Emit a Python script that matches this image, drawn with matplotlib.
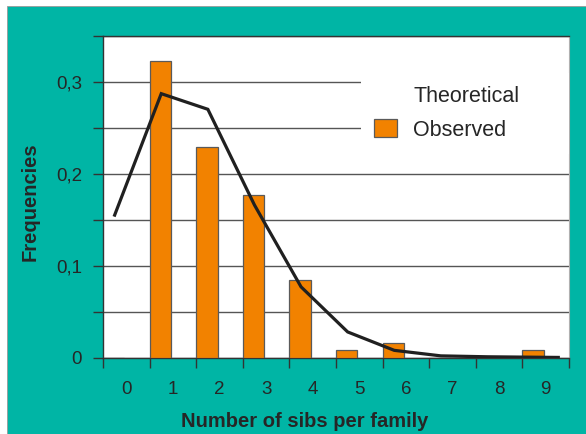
import matplotlib.pyplot as plt
import numpy as np
from matplotlib.patches import Rectangle, Patch
from matplotlib.lines import Line2D
from matplotlib.ticker import MultipleLocator, FixedLocator, FuncFormatter

plt.rcParams['font.family'] = ['Liberation Sans', 'DejaVu Sans']

# data
n_sibs = np.arange(10)
observed = [0.0, 0.322, 0.229, 0.177, 0.084, 0.008, 0.016, 0.0, 0.0, 0.008]
theo_x = [-0.25, 0.75, 1.75, 2.75, 3.75, 4.75, 5.75, 6.75, 7.75, 9.27]
theoretical = [0.155, 0.287, 0.270, 0.166, 0.077, 0.028, 0.008, 0.002, 0.001, 0.0003]

teal = '#00B5A5'
orange = '#F28200'
text_c = '#262626'


def main():
    fig = plt.figure(figsize=(5.86, 4.34), dpi=100, facecolor='white')
    fig.patches.append(Rectangle((7 / 586, 0), 1, 1 - 6 / 434, transform=fig.transFigure,
                                 facecolor=teal, edgecolor='#9a9a9a', lw=0.6, zorder=-10))

    ax = fig.add_axes([103 / 586, 1 - 357.7 / 434, 466 / 586, 322 / 434])
    ax.set_facecolor('white')

    # bars sit in the left half of each category
    ax.bar(n_sibs - 0.5, observed, width=0.46, align='edge', color=orange,
           edgecolor='#5a5a5a', linewidth=0.9, zorder=3, label='Observed')
    ax.plot(theo_x, theoretical, color='#202020', lw=2.3, zorder=4, solid_joinstyle='miter')

    ax.set_xlim(-0.5, 9.5)
    ax.set_ylim(0, 0.35)

    # x: labels at centres, tick marks on the category borders
    ax.xaxis.set_major_locator(FixedLocator(n_sibs))
    ax.xaxis.set_minor_locator(FixedLocator(np.arange(-0.5, 10, 1.0)))
    ax.tick_params(axis='x', which='major', length=0, pad=17, labelsize=13.5, labelcolor=text_c)
    ax.tick_params(axis='x', which='minor', length=7, width=1, color='#333333', direction='out')

    # y: labels every 0.1 with comma, marks every 0.05
    ax.yaxis.set_major_locator(MultipleLocator(0.1))
    ax.yaxis.set_minor_locator(MultipleLocator(0.05))
    ax.yaxis.set_major_formatter(FuncFormatter(lambda v, p: ('%.1f' % v).replace('.', ',') if v > 1e-9 else '0'))
    ax.tick_params(axis='y', which='both', length=7, width=1, color='#333333', direction='out')
    ax.tick_params(axis='y', which='major', pad=8, labelsize=13.5, labelcolor=text_c)

    ax.grid(True, axis='y', which='both', color='#555555', lw=1.0, zorder=1)
    ax.set_axisbelow(True)

    for side in ['left', 'bottom', 'top']:
        ax.spines[side].set_color('#333333')
        ax.spines[side].set_linewidth(1.0)
    ax.spines['right'].set_color('#b0b0b0')

    ax.text(-0.157, 0.484, 'Frequencies', transform=ax.transAxes, rotation=90,
            ha='center', va='center', fontsize=14.5, fontweight='bold', color=text_c)
    fig.text(305 / 586, 1 - 421.7 / 434, 'Number of sibs per family', ha='center', va='center',
             fontsize=14.5, fontweight='bold', color=text_c)

    handles = [Line2D([], [], color='none'),
               Patch(facecolor=orange, edgecolor='#5a5a5a', linewidth=0.9)]
    leg = ax.legend(handles, ['Theoretical', 'Observed'], loc='upper left',
                    bbox_to_anchor=(0.554, 0.70, 0.446, 0.185), mode='expand',
                    fontsize=15.5, frameon=True, fancybox=False, framealpha=1,
                    handlelength=1.07, handleheight=0.93, handletextpad=0.75,
                    labelspacing=0.55, borderpad=0.6, borderaxespad=0)
    leg.get_frame().set_edgecolor('none')
    leg.get_frame().set_facecolor('white')
    for t in leg.get_texts():
        t.set_color(text_c)
    leg.set_zorder(5)

    plt.savefig('out.png', dpi=100, facecolor=fig.get_facecolor())


if "__main__" == __name__:
    main()
